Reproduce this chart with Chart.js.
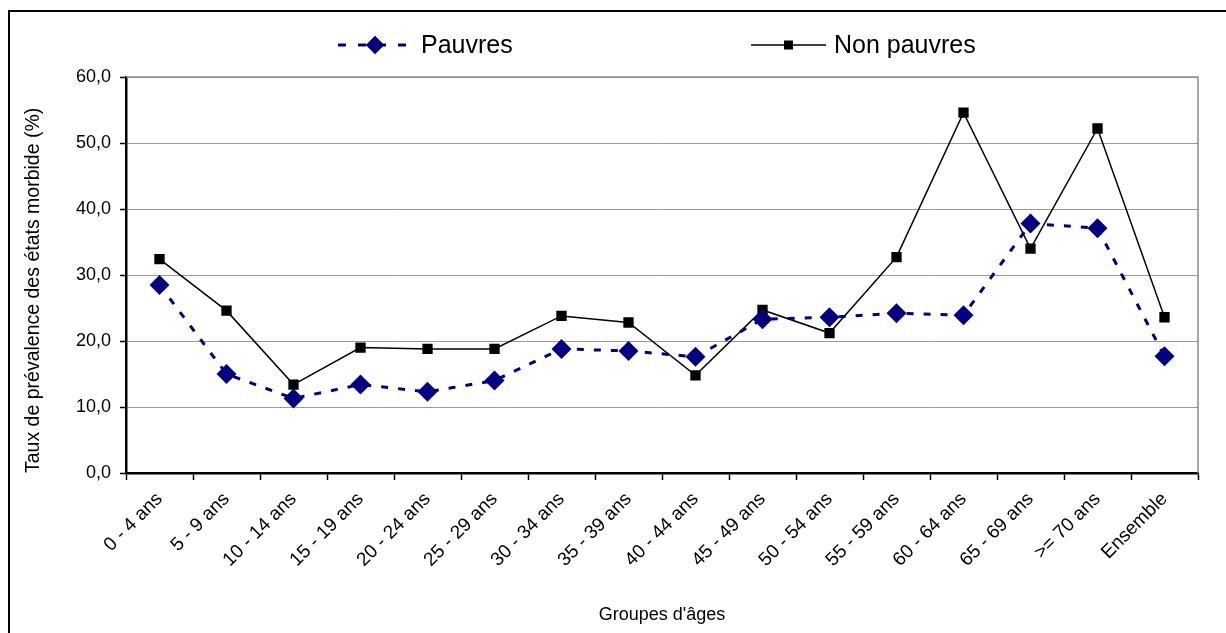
<!DOCTYPE html>
<html>
<head>
<meta charset="utf-8">
<script src="https://cdn.jsdelivr.net/npm/chart.js@4/dist/chart.umd.min.js"></script>
<style>
  body { margin: 0; background: #fff; }
  canvas { display: block; }
</style>
</head>
<body>
<canvas id="chart" width="1226" height="633"></canvas>
<script>
// age groups on the x axis
const categories = ['0 - 4 ans', '5 - 9 ans', '10 - 14 ans', '15 - 19 ans', '20 - 24 ans', '25 - 29 ans',
    '30 - 34 ans', '35 - 39 ans', '40 - 44 ans', '45 - 49 ans', '50 - 54 ans', '55 - 59 ans',
    '60 - 64 ans', '65 - 69 ans', '>= 70 ans', 'Ensemble'];
const pauvres = [28.5, 15.0, 11.3, 13.4, 12.3, 14.0, 18.8, 18.5, 17.6, 23.3, 23.6, 24.2, 23.9, 37.8, 37.1, 17.7];
const nonPauvres = [32.4, 24.6, 13.4, 19.0, 18.8, 18.8, 23.8, 22.8, 14.8, 24.7, 21.2, 32.7, 54.6, 34.0, 52.2, 23.6];
const yTicks = [0, 10, 20, 30, 40, 50, 60];

const FONT = "'Liberation Sans', Arial, sans-serif";
const NAVY = '#000080';

// outer frame + grey border round the plot area
const framePlugin = {
    id: 'frame',
    beforeDraw(chart) {
        const ctx = chart.ctx;
        ctx.save();
        ctx.strokeStyle = '#000';
        ctx.lineWidth = 2;
        ctx.strokeRect(9, 11, 1400, 800);
        ctx.restore();
    },
    afterDraw(chart) {
        const ctx = chart.ctx, a = chart.chartArea;
        ctx.save();
        ctx.strokeStyle = '#8c8c8c';
        ctx.lineWidth = 1.5;
        ctx.beginPath();
        ctx.moveTo(a.left, a.top);
        ctx.lineTo(a.right, a.top);
        ctx.lineTo(a.right, a.bottom);
        ctx.stroke();
        ctx.restore();
    }
};

// legend drawn by hand to sit like the original one
const legendPlugin = {
    id: 'customLegend',
    afterDraw(chart) {
        const ctx = chart.ctx;
        const y = 45;
        ctx.save();
        // Pauvres
        ctx.strokeStyle = NAVY;
        ctx.lineWidth = 3;
        ctx.setLineDash([8, 12]);
        ctx.beginPath();
        ctx.moveTo(338, y);
        ctx.lineTo(412, y);
        ctx.stroke();
        ctx.setLineDash([]);
        ctx.fillStyle = NAVY;
        Chart.helpers.drawPoint(ctx, {pointStyle: 'rectRot', radius: 9, borderWidth: 0}, 375, y);
        ctx.fill();
        // Non pauvres
        ctx.strokeStyle = '#000';
        ctx.lineWidth = 1.5;
        ctx.beginPath();
        ctx.moveTo(751, y);
        ctx.lineTo(826, y);
        ctx.stroke();
        ctx.fillStyle = '#000';
        ctx.fillRect(784, y - 4.5, 9, 9);

        ctx.fillStyle = '#000';
        ctx.font = '25px ' + FONT;
        ctx.textBaseline = 'middle';
        ctx.fillText('Pauvres', 421, y + 1);
        ctx.fillText('Non pauvres', 834, y + 1);
        ctx.restore();
    }
};

const ctx = document.getElementById('chart').getContext('2d');
new Chart(ctx, {
    type: 'line',
    data: {
        labels: categories,
        datasets: [{
            label: 'Pauvres',
            data: pauvres,
            borderColor: NAVY,
            backgroundColor: NAVY,
            borderWidth: 3,
            borderDash: [7, 10],
            pointStyle: 'rectRot',
            pointRadius: 10,
            pointBorderWidth: 0,
            pointBackgroundColor: NAVY,
            tension: 0
        }, {
            label: 'Non pauvres',
            data: nonPauvres,
            borderColor: '#000',
            backgroundColor: '#000',
            borderWidth: 1.5,
            pointStyle: 'rect',
            pointRadius: 7.3,
            pointBorderWidth: 0,
            pointBackgroundColor: '#000',
            tension: 0
        }]
    },
    options: {
        responsive: false,
        animation: false,
        devicePixelRatio: 1,
        layout: { padding: { top: 77, right: 28, left: 0, bottom: 0 } },
        plugins: {
            legend: { display: false },
            tooltip: { enabled: false }
        },
        scales: {
            x: {
                type: 'category',
                offset: true,
                afterFit(scale) { scale.height = 160; },
                grid: {
                    offset: true,
                    drawOnChartArea: false,
                    tickLength: 7,
                    tickColor: '#000',
                    tickWidth: 1.5
                },
                border: { color: '#000', width: 2.5 },
                ticks: {
                    minRotation: 45,
                    maxRotation: 45,
                    autoSkip: false,
                    padding: 8,
                    color: '#000',
                    font: { family: FONT, size: 19 }
                },
                title: {
                    display: true,
                    text: "Groupes d'âges",
                    color: '#000',
                    font: { family: FONT, size: 18 },
                    padding: { top: 0, bottom: 7 }
                }
            },
            y: {
                min: 0,
                max: 60,
                afterFit(scale) { scale.width = 126; },
                afterBuildTicks(scale) { scale.ticks = yTicks.map(v => ({ value: v })); },
                grid: {
                    color: '#9a9a9a',
                    lineWidth: 1,
                    tickLength: 6,
                    tickColor: '#000',
                    tickWidth: 1.5
                },
                border: { color: '#000', width: 2.5 },
                ticks: {
                    padding: 9,
                    color: '#000',
                    font: { family: FONT, size: 18 },
                    callback: v => v.toFixed(1).replace('.', ',')
                },
                title: {
                    display: true,
                    text: 'Taux de prévalence des états morbide (%)',
                    align: 'start',
                    color: '#000',
                    font: { family: FONT, size: 19.5 },
                    padding: { top: 22, bottom: 0 }
                }
            }
        }
    },
    plugins: [framePlugin, legendPlugin]
});
</script>
</body>
</html>
